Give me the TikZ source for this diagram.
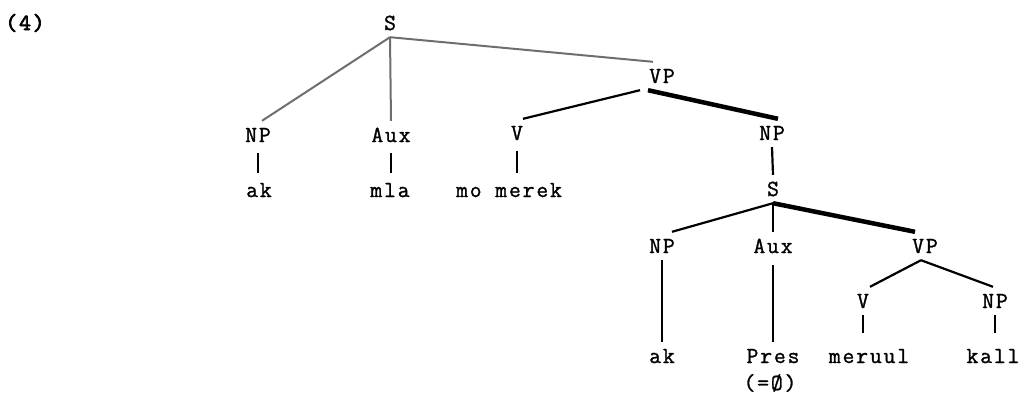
\documentclass[tikz,border=0pt]{standalone}
\usepackage{fontspec}
\newfontfamily\treefont{Latin Modern Mono}[LetterSpace=8, FakeBold=1.2]
\newfontfamily\treefontbold{Latin Modern Mono}[LetterSpace=8, FakeBold=3]
\definecolor{lgrey}{HTML}{6E6E6E}
\begin{document}
\begin{tikzpicture}[x=1pt,y=-1pt,
  lab/.style={anchor=base, font=\treefont\fontsize{23}{26}\selectfont, text height=14pt, text depth=0pt, inner xsep=0pt, inner ysep=7pt},
  greyedge/.style={draw=lgrey, line width=2pt},
  edge/.style={draw=black, line width=2.2pt},
  heavy/.style={draw=black, line width=4.5pt},
  bar/.style={draw=black, line width=2.2pt}]
\useasboundingbox (0,0) rectangle (1030,394);
\node[lab, font=\treefontbold\fontsize{23}{26}\selectfont] (n4) at (25,30) {(4)};
\node[lab] (S) at (390,30) {S};
\node[lab] (VP) at (662,83) {VP};
\node[lab] (NPa) at (258,142) {NP};
\node[lab] (Auxa) at (391,142) {Aux};
\node[lab] (V) at (517,140) {V};
\node[lab] (NPb) at (772,140) {NP};
\node[lab] (ak) at (259,197) {ak};
\node[lab] (mla) at (390,197) {mla};
\node[lab] (momerek) at (509,197) {mo merek};
\node[lab] (Sb) at (773,196) {S};
\node[lab] (NPc) at (662,253) {NP};
\node[lab] (Auxb) at (773,253) {Aux};
\node[lab] (VPb) at (925,253) {VP};
\node[lab] (Vb) at (863,308) {V};
\node[lab] (NPd) at (995,308) {NP};
\node[lab] (akb) at (662,363) {ak};
\node[lab] (Pres) at (773,363) {Pres};
\node[lab] (meruul) at (869,363) {meruul};
\node[lab] (kall) at (993,363) {kall};
\node[lab] (eq) at (770,390) {(=Ø)};
% upper S
\draw[greyedge] (S.south) -- ([xshift=4pt]NPa.north);
\draw[greyedge] (S.south) -- (Auxa.north);
\draw[greyedge] (S.south) -- ([xshift=-9pt]VP.north);
% VP
\draw[edge] ([xshift=-22pt]VP.south) -- ([xshift=6pt]V.north);
\draw[heavy] ([xshift=-14pt]VP.south) -- ([xshift=6pt]NPb.north);
% bars
\draw[bar, shorten <=4pt, shorten >=3pt] (NPa.south) -- (NPa.south |- ak.north);
\draw[bar, shorten <=4pt, shorten >=3pt] (Auxa.south) -- (Auxa.south |- mla.north);
\draw[bar, shorten <=4pt, shorten >=3pt] (V.south) -- (V.south |- momerek.north);
\draw[bar] (NPb.south) -- (Sb.north);
% lower S
\draw[edge] (Sb.south) -- ([xshift=10pt]NPc.north);
\draw[edge] (Sb.south) -- (Auxb.north);
\draw[heavy] (Sb.south) -- ([xshift=-10pt]VPb.north);
% lower VP
\draw[edge] ([xshift=-4pt]VPb.south) -- ([xshift=7pt]Vb.north);
\draw[edge] ([xshift=-4pt]VPb.south) -- ([xshift=-2pt]NPd.north);
% lower bars
\draw[bar] (NPc.south) -- (akb.north);
\draw[bar, shorten <=5pt] (Auxb.south) -- (Pres.north);
\draw[bar, shorten >=9pt] (Vb.south) -- (Vb.south |- meruul.north);
\draw[bar, shorten >=9pt] (NPd.south) -- (NPd.south |- kall.north);
\end{tikzpicture}
\end{document}
